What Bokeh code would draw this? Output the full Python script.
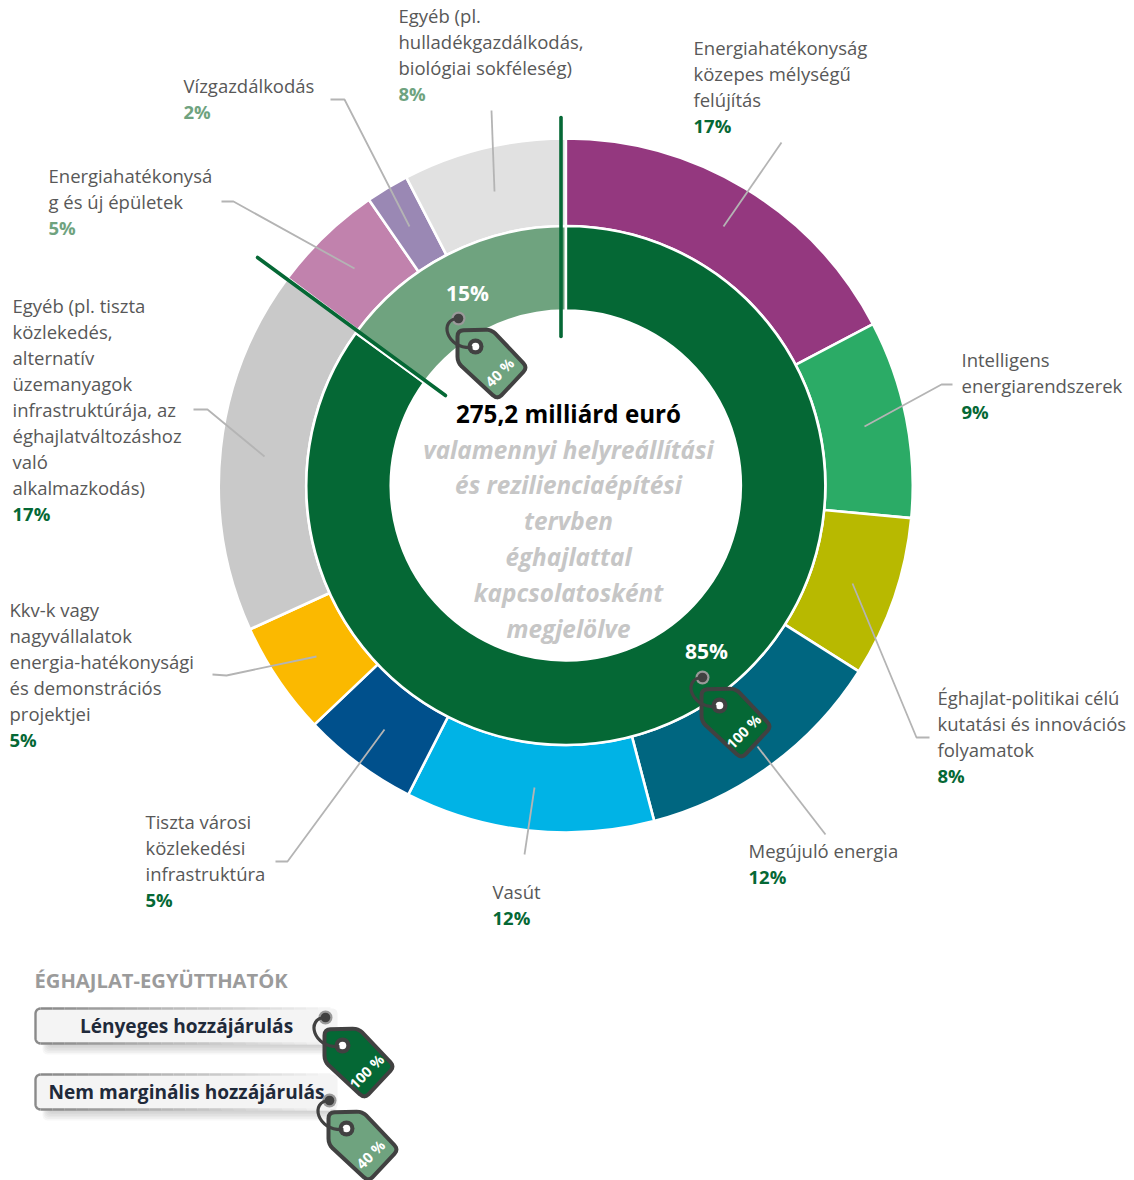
import numpy as np
from bokeh.plotting import figure
from bokeh.models import Range1d
from bokeh.core.properties import value
from bokeh.embed import file_html
from bokeh.resources import INLINE

# ---------- data ----------
categories = [
    "Energiahatékonyság\nközepes mélységű\nfelújítás",
    "Intelligens\nenergiarendszerek",
    "Éghajlat-politikai célú\nkutatási és innovációs\nfolyamatok",
    "Megújuló energia",
    "Vasút",
    "Tiszta városi\nközlekedési\ninfrastruktúra",
    "Kkv-k vagy\nnagyvállalatok\nenergia-hatékonysági\nés demonstrációs\nprojektjei",
    "Egyéb (pl. tiszta\nközlekedés,\nalternatív\nüzemanyagok\ninfrastruktúrája, az\néghajlatváltozáshoz\nvaló\nalkalmazkodás)",
    "Energiahatékonysá\ng és új épületek",
    "Vízgazdálkodás",
    "Egyéb (pl.\nhulladékgazdálkodás,\nbiológiai sokféleség)",
]
shares = [17.3, 9.2, 7.5, 11.9, 11.6, 5.4, 5.3, 17.0, 5.2, 2.0, 7.6]
share_labels = ["17%", "9%", "8%", "12%", "12%", "5%", "5%", "17%", "5%", "2%", "8%"]
outer_colors = ["#94387f", "#2bab66", "#b8b900", "#006680", "#00b3e6", "#00508c",
                "#fbb900", "#c9c9c9", "#c182ad", "#9a88b4", "#e1e1e1"]
coef_labels = ["100 %", "100 %", "100 %", "100 %", "100 %", "100 %", "100 %", "100 %", "40 %", "40 %", "40 %"]
inner_shares = [85, 15]
inner_labels = ["85%", "15%"]
inner_colors = ["#056835", "#6fa37f"]
total_label = "275,2 milliárd euró"
center_lines = ["valamennyi helyreállítási", "és rezilienciaépítési", "tervben",
                "éghajlattal", "kapcsolatosként", "megjelölve"]
legend_title = "ÉGHAJLAT-EGYÜTTHATÓK"
legend_items = ["Lényeges hozzájárulás", "Nem marginális hozzájárulás"]
legend_tags = ["100 %", "40 %"]

# ---------- layout (page pixels) ----------
W, H = 1134, 1180
CX, CY = 565.3, 485
R_OUT, R_MID, R_IN = 347, 259.5, 175
LABEL_POS = [(693, 47), (961, 359), (937, 697), (748, 850), (492, 891), (145, 821),
             (9, 609), (12, 305), (48, 175), (183, 85), (398, 15)]
LEADERS = [
    [(781, 142), (723, 226)],
    [(952, 384), (941, 384), (864, 426)],
    [(929, 737), (916, 737), (852, 583)],
    [(825, 834), (757, 746)],
    [(524, 854), (534, 787)],
    [(275, 861), (287, 861), (384, 729)],
    [(212, 674), (226, 675), (316, 656)],
    [(193, 409), (207, 409), (264, 456)],
    [(221, 201), (233, 201), (354, 268)],
    [(330, 99), (344, 99), (409, 226)],
    [(491, 110), (494, 191)],
]
FONT = "Open Sans"
GRAY_TXT = "#585858"
LH = 26


def Y(y):
    return H - np.asarray(y, dtype=float)


p = figure(width=W, height=H, x_range=Range1d(0, W), y_range=Range1d(0, H),
           toolbar_location=None, output_backend="svg", min_border=0,
           background_fill_color="white", border_fill_color="white", outline_line_color=None)
p.axis.visible = False
p.grid.visible = False


def wedges(vals, colors, r0, r1):
    c = np.cumsum([0] + list(vals)) / sum(vals)
    a = np.pi / 2 - 2 * np.pi * c
    p.annular_wedge(x=[CX] * len(vals), y=[float(Y(CY))] * len(vals), inner_radius=r0, outer_radius=r1,
                    start_angle=a[1:], end_angle=a[:-1], fill_color=colors,
                    line_color="white", line_width=2.6)


def txt(x, y, s, size, color, bold=False, italic=False, align="left", angle=0.0):
    style = "bold italic" if bold and italic else "bold" if bold else "italic" if italic else "normal"
    p.text(x=[x], y=[float(Y(y))], text=[s], text_font=value(FONT), text_font_size=f"{size}px",
           text_color=color, text_font_style=style, text_align=align, text_baseline="middle", angle=angle)


wedges(shares, outer_colors, R_MID, R_OUT)
wedges(inner_shares, inner_colors, R_IN, R_MID)

# leaders
for pts in LEADERS:
    xs, ys = zip(*pts)
    p.line(list(xs), list(Y(ys)), line_color="#b4b4b4", line_width=1.8)

# dividers of the inner ring
p.line([560.5, 560.5], list(Y([117, 336])), line_color="#056835", line_width=3.6, line_cap="round")
p.line([257, 445], list(Y([257, 395])), line_color="#056835", line_width=3.6, line_cap="round")


def rounded(ox, oy, r=6.0, n=5):
    pts = np.c_[ox, oy]
    out = []
    for i in range(len(pts)):
        a, b, c = pts[i - 1], pts[i], pts[(i + 1) % len(pts)]
        u = (a - b) / np.linalg.norm(a - b)
        v = (c - b) / np.linalg.norm(c - b)
        s, e = b + u * r, b + v * r
        for t in np.linspace(0, 1, n):
            out.append((1 - t) ** 2 * s + 2 * t * (1 - t) * b + t ** 2 * e)
    out = np.array(out)
    return out[:, 0], out[:, 1]


def tag(hx, hy, label, color, pin_ring="#9a9a9a"):
    ox = np.array([-18, 16, 52, 22, -18], dtype=float)
    oy = np.array([-16, -17, 21, 53, 16], dtype=float)
    rx, ry = rounded(ox, oy)
    p.patch(hx + rx, Y(hy + ry), fill_color=color, line_color="#414141", line_width=4, line_join="round")
    p.circle([hx], [float(Y(hy))], radius=8, fill_color="#414141", line_color=None)
    p.circle([hx], [float(Y(hy))], radius=3.8, fill_color="white", line_color=None)
    p.circle([hx - 17], [float(Y(hy - 28))], radius=7, fill_color=pin_ring, line_color=None)
    p.circle([hx - 17], [float(Y(hy - 28))], radius=4.8, fill_color="#414141", line_color=None)
    p.bezier(x0=[hx - 17], y0=[float(Y(hy - 28))], x1=[hx - 3], y1=[float(Y(hy + 1))],
             cx0=[hx - 37], cy0=[float(Y(hy - 28))], cx1=[hx - 30], cy1=[float(Y(hy + 3))],
             line_color="#414141", line_width=3.2)
    txt(hx + 24, hy + 26, label, 14.5, "white", bold=True, align="center", angle=np.pi / 4)


tag(475, 346, "40 %", inner_colors[1])
tag(719, 705, "100 %", inner_colors[0])
txt(467, 292, inner_labels[1], 21, "white", bold=True, align="center")
txt(706, 650, inner_labels[0], 21, "white", bold=True, align="center")

# centre
txt(568, 412.5, total_label, 24.2, "black", bold=True, align="center")
for i, s in enumerate(center_lines):
    txt(568, 448.5 + i * 35.8, s, 24.3, "#c6c6c6", bold=True, italic=True, align="center")

# outer labels
for cat, lab, tagname, (x, y) in zip(categories, share_labels, coef_labels, LABEL_POS):
    lines = cat.split("\n")
    for j, ln in enumerate(lines):
        txt(x, y + j * LH, ln, 18.5, GRAY_TXT)
    col = inner_colors[0] if tagname == "100 %" else inner_colors[1]
    txt(x, y + len(lines) * LH, lab, 18.5, col, bold=True)

# legend
txt(34, 979.5, legend_title, 20.2, "#9b9b9b", bold=True)


def rbox(x0, x1, y0, y1, r=5):
    t = np.linspace(0, np.pi / 2, 6)
    xs = np.r_[x0 + r - r * np.cos(t), x1 - r + r * np.sin(t), x1 - r + r * np.cos(t), x0 + r - r * np.sin(t)]
    ys = np.r_[y0 + r - r * np.sin(t), y0 + r - r * np.cos(t), y1 - r + r * np.sin(t), y1 - r + r * np.cos(t)]
    return xs, ys


for (y0, y1), s, cx in zip([(1008, 1043), (1074, 1109)], legend_items, [186, 186]):
    for k in range(7):
        xs, ys = rbox(42 + k, 336 - k, y1 - 6, y1 + 11 - k * 1.6, r=5)
        p.patch(xs, Y(ys), fill_color="#707070", fill_alpha=0.055, line_color=None)
    xs, ys = rbox(35, 337, y0, y1)
    p.patch(xs, Y(ys), fill_color="#f4f4f4", line_color=None)
    t = np.linspace(0, np.pi / 2, 6)
    p.line(list(np.r_[40 - 5 * np.sin(t), 40 - 5 * np.cos(t)]),
           list(Y(np.r_[y0 + 5 - 5 * np.cos(t), y1 - 5 + 5 * np.sin(t)])),
           line_color="#8a8a8a", line_width=2.4)
    edge = np.linspace(40, 330, 25)
    for a, b, f in zip(edge[:-1], edge[1:], np.linspace(0, 1, 24)):
        g = int(0x8a + (0xf4 - 0x8a) * f)
        colr = f"#{g:02x}{g:02x}{g:02x}"
        p.line([a, b], list(Y([y0, y0])), line_color=colr, line_width=2.4)
        p.line([a, b], list(Y([y1, y1])), line_color=colr, line_width=2.4)
    txt(cx, (y0 + y1) / 2 - 0.5, s, 19.1, "#1f2a3a", bold=True, align="center")

tag(342, 1045, legend_tags[0], inner_colors[0])
tag(346, 1128, legend_tags[1], inner_colors[1])

open("out.html", "w").write(file_html(p, INLINE))
